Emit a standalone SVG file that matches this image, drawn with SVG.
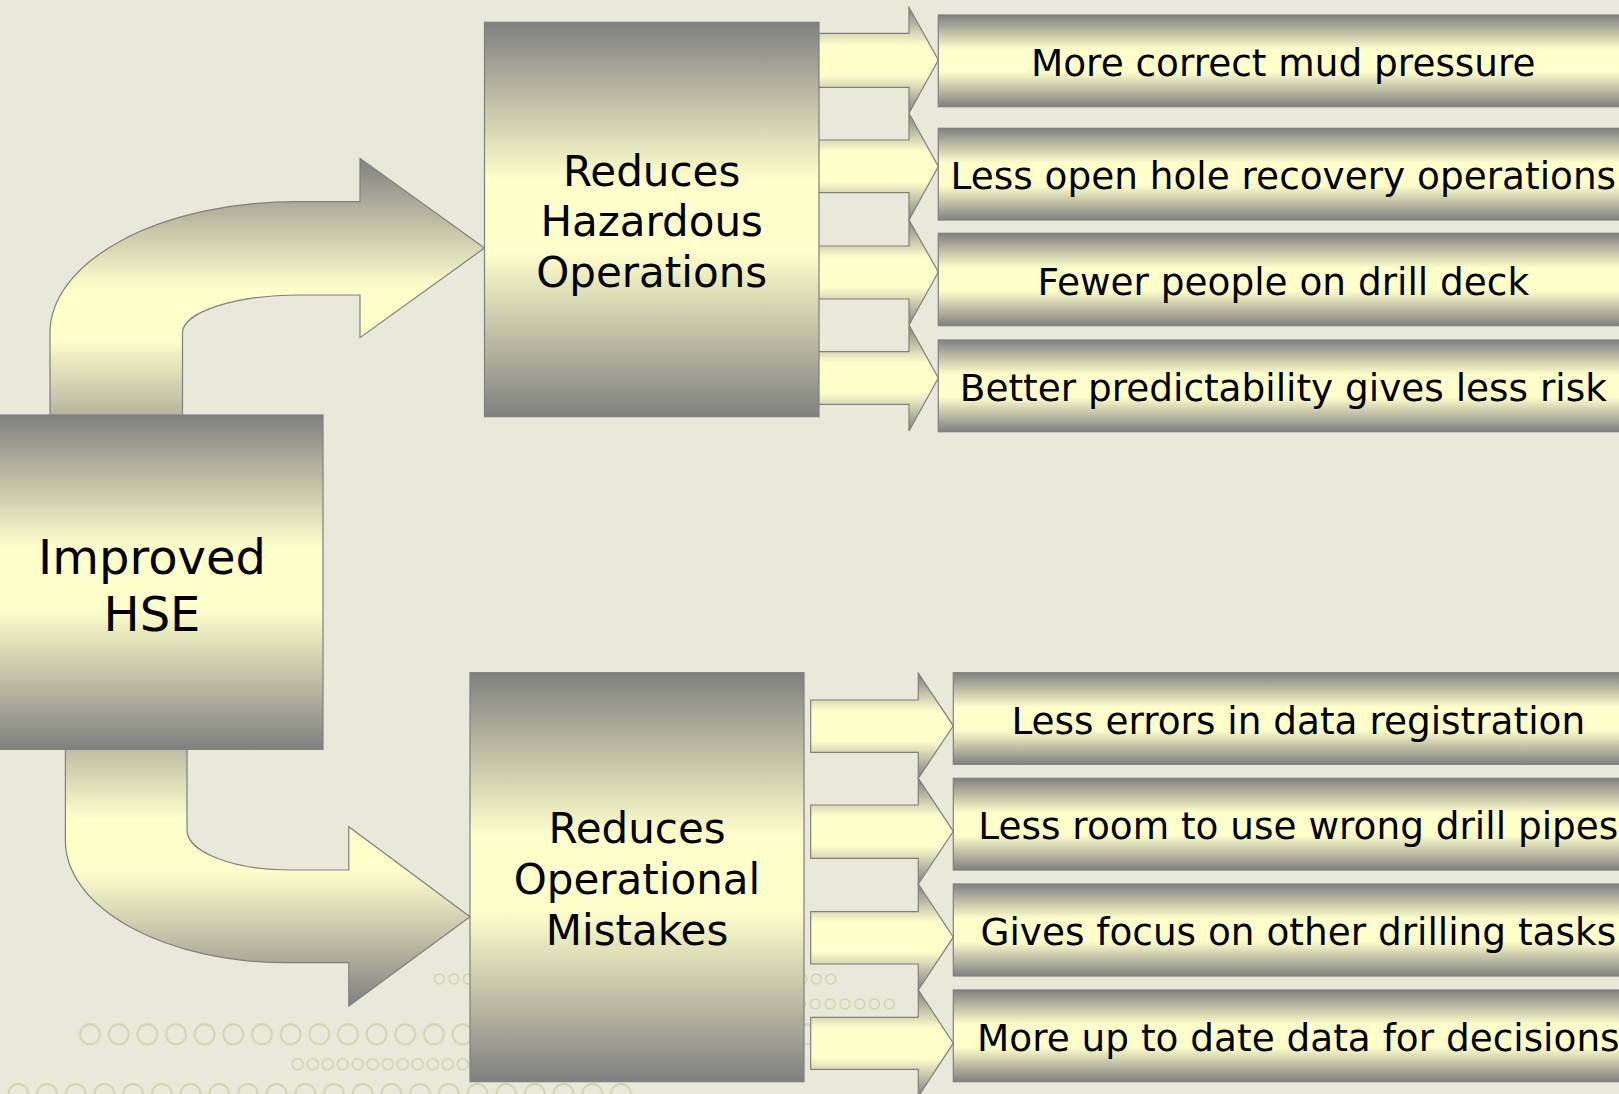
<svg xmlns="http://www.w3.org/2000/svg" width="1619" height="1094" viewBox="0 0 1619 1094">
<style>
.box{stroke:#7f7f7f;stroke-width:1.2}
.arr{stroke:#7f7f7f;stroke-width:1.2;fill:url(#gArrow)}
.lbl{font-family:"DejaVu Sans",Verdana,sans-serif;fill:#000;text-anchor:middle}
.big{font-size:48px}
.mid{font-size:42px}
.sm{font-size:37.4px}
</style>
<defs>
<linearGradient id="gBox" x1="0" y1="0" x2="0" y2="1">
<stop offset="0" stop-color="#808080"/>
<stop offset="0.4" stop-color="#ffffcc"/>
<stop offset="0.58" stop-color="#ffffcc"/>
<stop offset="1" stop-color="#808080"/>
</linearGradient>
<linearGradient id="gBar" x1="0" y1="0" x2="0" y2="1">
<stop offset="0" stop-color="#808080"/>
<stop offset="0.38" stop-color="#ffffcc"/>
<stop offset="0.62" stop-color="#ffffcc"/>
<stop offset="1" stop-color="#808080"/>
</linearGradient>
<linearGradient id="gArrow" x1="0" y1="0" x2="0" y2="1">
<stop offset="0" stop-color="#808080"/>
<stop offset="0.36" stop-color="#ffffcc"/>
<stop offset="0.64" stop-color="#ffffcc"/>
<stop offset="1" stop-color="#808080"/>
</linearGradient>
<linearGradient id="gCurveTop" gradientUnits="userSpaceOnUse" x1="0" y1="158" x2="0" y2="470">
<stop offset="0" stop-color="#808080"/>
<stop offset="0.42" stop-color="#ffffcc"/>
<stop offset="0.58" stop-color="#ffffcc"/>
<stop offset="1" stop-color="#808080"/>
</linearGradient>
<linearGradient id="gCurveBot" gradientUnits="userSpaceOnUse" x1="0" y1="685" x2="0" y2="1006">
<stop offset="0" stop-color="#808080"/>
<stop offset="0.42" stop-color="#ffffcc"/>
<stop offset="0.58" stop-color="#ffffcc"/>
<stop offset="1" stop-color="#808080"/>
</linearGradient>
<pattern id="pA" patternUnits="userSpaceOnUse" x="432.05" y="972" width="14.5" height="14"><circle cx="7.25" cy="7" r="5" fill="none" stroke="#cfd3ae" stroke-width="1.5"/></pattern>
<pattern id="pB" patternUnits="userSpaceOnUse" x="733.9" y="997" width="14.8" height="14"><circle cx="7.4" cy="7" r="5" fill="none" stroke="#cfd3ae" stroke-width="1.5"/></pattern>
<pattern id="pC" patternUnits="userSpaceOnUse" x="75.67" y="1022.3" width="28.66" height="24"><circle cx="14.33" cy="12" r="10" fill="none" stroke="#cfd3ae" stroke-width="1.8"/></pattern>
<pattern id="pD" patternUnits="userSpaceOnUse" x="290.2" y="1057.3" width="15" height="14"><circle cx="7.5" cy="7" r="5.5" fill="none" stroke="#cfd3ae" stroke-width="1.5"/></pattern>
<pattern id="pE" patternUnits="userSpaceOnUse" x="3.95" y="1082" width="28.7" height="24"><circle cx="14.35" cy="12" r="10" fill="none" stroke="#cfd3ae" stroke-width="1.8"/></pattern>
</defs>
<rect x="0" y="0" width="1619" height="1094" fill="#e8e9d8"/>
<g id="decor">
<rect x="432.05" y="972" width="406" height="14" fill="url(#pA)"/>
<rect x="733.9" y="997" width="162.8" height="14" fill="url(#pB)"/>
<rect x="75.67" y="1022.3" width="745.16" height="24" fill="url(#pC)"/>
<rect x="290.2" y="1057.3" width="195" height="14" fill="url(#pD)"/>
<rect x="3.95" y="1082" width="631.4" height="24" fill="url(#pE)"/>
</g>
<g id="connectors">
<path id="curve-top" d="M50,470 L50,333 A246,131.3 0 0 1 296,201.7 L360,201.7 L360,158.3 L484.5,248 L360,337.7 L360,295 L300,295 A117.5,38 0 0 0 182.5,333 L182.5,470 Z" fill="url(#gCurveTop)" stroke="#7f7f7f" stroke-width="1.2"/>
<path id="curve-bottom" d="M65.4,685 L65.4,840.7 A221,122 0 0 0 286.4,962.7 L348.8,962.7 L348.8,1006 L470,916.7 L348.8,826.7 L348.8,870 L290,870 A103,40 0 0 1 187,830 L187,685 Z" fill="url(#gCurveBot)" stroke="#7f7f7f" stroke-width="1.2"/>
<path class="arr" d="M805,33.3 L909,33.3 L909,7.3 L938.3,60 L909,113.3 L909,87.3 L805,87.3 Z"/>
<path class="arr" d="M805,140 L909,140 L909,113.3 L938.3,166.5 L909,220 L909,192.7 L805,192.7 Z"/>
<path class="arr" d="M805,246 L909,246 L909,220 L938.3,272 L909,325 L909,299 L805,299 Z"/>
<path class="arr" d="M805,351.7 L909,351.7 L909,325 L938.3,378 L909,431 L909,404.3 L805,404.3 Z"/>
<path class="arr" d="M810.7,700 L918.3,700 L918.3,673.3 L953.3,725.8 L918.3,778.3 L918.3,752.3 L810.7,752.3 Z"/>
<path class="arr" d="M810.7,805 L918.3,805 L918.3,778.3 L953.3,831.3 L918.3,884 L918.3,858.3 L810.7,858.3 Z"/>
<path class="arr" d="M810.7,911.7 L918.3,911.7 L918.3,884 L953.3,937.2 L918.3,990 L918.3,964 L810.7,964 Z"/>
<path class="arr" d="M810.7,1017.3 L918.3,1017.3 L918.3,990 L953.3,1043.2 L918.3,1096.5 L918.3,1069.3 L810.7,1069.3 Z"/>
</g>
<g id="node-hse">
<rect class="box" x="-19" y="415" width="342" height="334.3" fill="url(#gBox)"/>
<text class="lbl big" x="152" y="574">Improved</text>
<text class="lbl big" x="152" y="630.5">HSE</text>
</g>
<g id="node-hazardous">
<rect class="box" x="484.5" y="22.3" width="334.5" height="394.4" fill="url(#gBox)"/>
<text class="lbl mid" x="651.7" y="185.5">Reduces</text>
<text class="lbl mid" x="651.7" y="236">Hazardous</text>
<text class="lbl mid" x="651.7" y="287">Operations</text>
</g>
<g id="node-operational">
<rect class="box" x="470" y="672.7" width="334" height="409" fill="url(#gBox)"/>
<text class="lbl mid" x="637" y="843">Reduces</text>
<text class="lbl mid" x="637" y="893.5">Operational</text>
<text class="lbl mid" x="637" y="944.5">Mistakes</text>
</g>
<g id="node-mud">
<rect class="box" x="938.3" y="15" width="690" height="91.7" fill="url(#gBar)"/>
<text class="lbl sm" x="1283.3" y="75.5">More correct mud pressure</text>
</g>
<g id="node-openhole">
<rect class="box" x="938.3" y="128.3" width="690" height="91.7" fill="url(#gBar)"/>
<text class="lbl sm" x="1283.3" y="189">Less open hole recovery operations</text>
</g>
<g id="node-people">
<rect class="box" x="938.3" y="233.3" width="690" height="92.4" fill="url(#gBar)"/>
<text class="lbl sm" x="1283.3" y="294.5">Fewer people on drill deck</text>
</g>
<g id="node-predict">
<rect class="box" x="938.3" y="340" width="690" height="91.7" fill="url(#gBar)"/>
<text class="lbl sm" x="1283.3" y="400.8">Better predictability gives less risk</text>
</g>
<g id="node-errors">
<rect class="box" x="953.3" y="672.7" width="690" height="91.6" fill="url(#gBar)"/>
<text class="lbl sm" x="1298.3" y="733.5">Less errors in data registration</text>
</g>
<g id="node-pipes">
<rect class="box" x="953.3" y="778.3" width="690" height="91.7" fill="url(#gBar)"/>
<text class="lbl sm" x="1298.3" y="839.2">Less room to use wrong drill pipes</text>
</g>
<g id="node-focus">
<rect class="box" x="953.3" y="884" width="690" height="92" fill="url(#gBar)"/>
<text class="lbl sm" x="1298.3" y="945">Gives focus on other drilling tasks</text>
</g>
<g id="node-uptodate">
<rect class="box" x="953.3" y="990" width="690" height="91.7" fill="url(#gBar)"/>
<text class="lbl sm" x="1298.3" y="1050.8">More up to date data for decisions</text>
</g>
</svg>
